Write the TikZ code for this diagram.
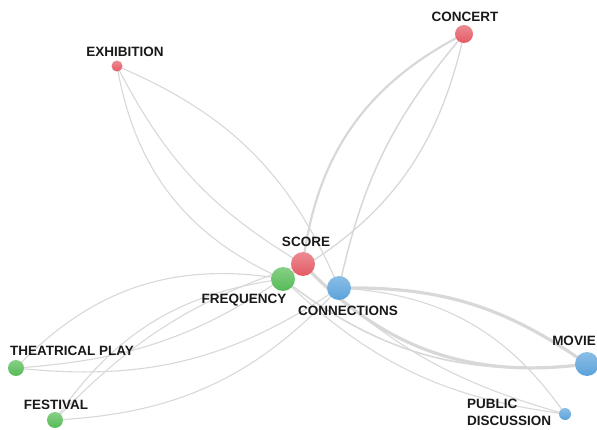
\documentclass[tikz,border=0pt]{standalone}
\usepackage{fontspec}
\usetikzlibrary{backgrounds}
\newfontfamily\labelfont{Liberation Sans}

\definecolor{catred}{HTML}{E45A64}
\definecolor{catgreen}{HTML}{55BB55}
\definecolor{catblue}{HTML}{5AA2DA}
\definecolor{edgegray}{RGB}{216,216,216}

\begin{document}
\begin{tikzpicture}[
  x=1pt, y=1pt,
  vertex/.style = {circle, inner sep=0pt, draw=none,
                   top color=#1!70!white, bottom color=#1},
  lbl/.style    = {font=\labelfont\fontsize{13.5}{14.5}\selectfont\bfseries,
                   inner sep=0pt, text=black!90},
  link/.style   = {draw=edgegray, line width=#1},
  link/.default = 1.1pt,
]
\useasboundingbox (0,0) rectangle (597,429);

%% --- hubs ---------------------------------------------------------------
\node[vertex=catred,   minimum size=24pt] (score) at (303,165) {};
\node[vertex=catgreen, minimum size=24pt] (freq)  at (283,150) {};
\node[vertex=catblue,  minimum size=24pt] (conn)  at (339,141) {};

%% --- outer nodes --------------------------------------------------------
\node[vertex=catred,   minimum size=18pt] (concert)  at (464,395) {};
\node[vertex=catred,   minimum size=11pt] (exhib)    at (117,363) {};
\node[vertex=catgreen, minimum size=16pt] (theatre)  at (16,61)   {};
\node[vertex=catgreen, minimum size=16pt] (festival) at (55,9)    {};
\node[vertex=catblue,  minimum size=24pt] (movie)    at (587,65)  {};
\node[vertex=catblue,  minimum size=12pt] (public)   at (565,15)  {};

%% --- labels -------------------------------------------------------------
\node[lbl] (score-lbl)    at (306,187) {SCORE};
\node[lbl] (freq-lbl)     at (244,129) {FREQUENCY};
\node[lbl] (conn-lbl)     at (348,118) {CONNECTIONS};
\node[lbl] (concert-lbl)  at (465,412) {CONCERT};
\node[lbl] (exhib-lbl)    at (125,377) {EXHIBITION};
\node[lbl] (theatre-lbl)  at (72,78)   {THEATRICAL PLAY};
\node[lbl] (festival-lbl) at (56,24)   {FESTIVAL};
\node[lbl] (movie-lbl)    at (574,88)  {MOVIE};
\node[lbl, align=left, anchor=west] (public-lbl) at (467,16.5)
  {PUBLIC\\[2pt]DISCUSSION};

%% --- edges (behind the nodes) ------------------------------------------
\begin{scope}[on background layer]
  % exhibition
  \draw[link] (exhib.center) to[bend right=28] (freq.center);
  \draw[link] (exhib.center) to[bend right=16] (score.center);
  \draw[link] (exhib.center) to[bend left=22]  (conn.center);
  % concert
  \draw[link=2.2pt] (concert.center) to[bend right=28] (score.center);
  \draw[link=1.5pt] (concert.center) to[bend right=14] (conn.center);
  \draw[link=1.3pt] (concert.center) to[bend left=24]  (freq.center);
  % theatrical play
  \draw[link] (theatre.center) to[bend left=28]  (freq.center);
  \draw[link] (theatre.center) to[bend right=16] (score.center);
  \draw[link] (theatre.center) to[bend right=20] (conn.center);
  % festival
  \draw[link] (festival.center) to[bend left=24]  (freq.center);
  \draw[link] (festival.center) to[bend left=14]  (score.center);
  \draw[link] (festival.center) to[bend right=22] (conn.center);
  % movie
  \draw[link=3.2pt] (conn.center)  to[bend left=18]  (movie.center);
  \draw[link=3.2pt] (score.center) to[bend right=27] (movie.center);
  \draw[link=1.6pt] (freq.center)  to[bend right=22] (movie.center);
  % public discussion
  \draw[link] (conn.center)  to[bend left=26]  (public.center);
  \draw[link] (score.center) to[bend right=14] (public.center);
  \draw[link] (freq.center)  to[bend right=18] (public.center);
\end{scope}

\end{tikzpicture}
\end{document}
